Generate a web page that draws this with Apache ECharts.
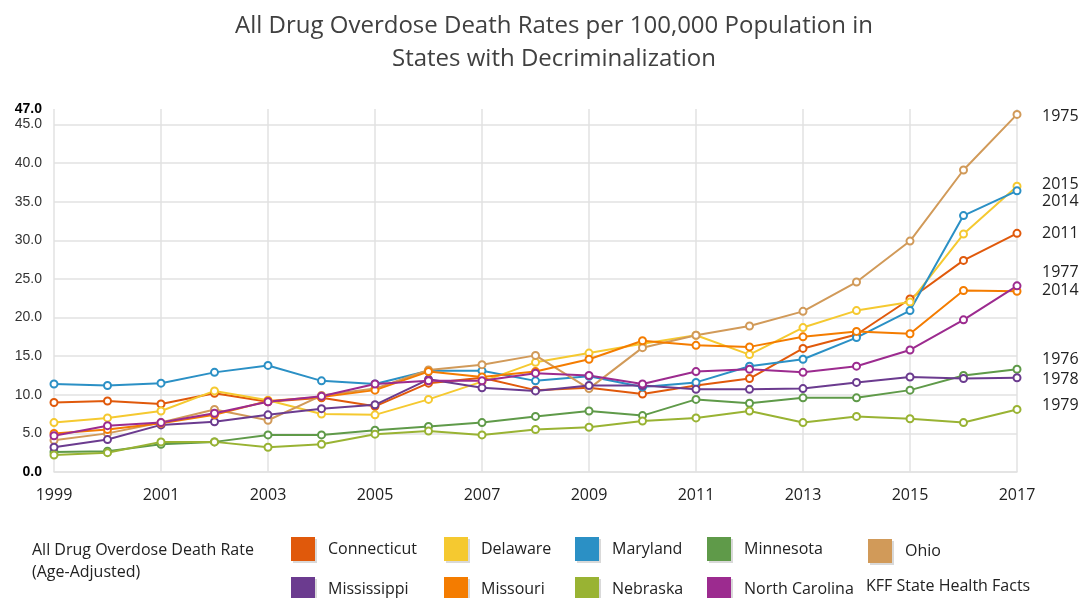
<!DOCTYPE html>
<html>
<head>
<meta charset="utf-8">
<script src="https://cdn.jsdelivr.net/npm/echarts@6/dist/echarts.min.js"></script>
<style>
  html, body { margin: 0; padding: 0; background: #fff; }
  #chart { width: 1079px; height: 598px; }
</style>
</head>
<body>
<div id="chart"></div>
<script>
const years = ['1999', '2000', '2001', '2002', '2003', '2004', '2005', '2006', '2007', '2008',
  '2009', '2010', '2011', '2012', '2013', '2014', '2015', '2016', '2017']

const connecticut = [9.0, 9.2, 8.8, 10.2, 9.1, 9.6, 8.5, 11.5, 12.2, 10.6, 10.9, 10.1, 11.2, 12.1, 16.0, 17.8, 22.4, 27.4, 30.9]
const delaware = [6.4, 7.0, 7.9, 10.5, 9.3, 7.5, 7.4, 9.4, 11.7, 14.2, 15.4, 16.6, 17.7, 15.2, 18.7, 20.9, 22.0, 30.8, 37.0]
const maryland = [11.4, 11.2, 11.5, 12.9, 13.8, 11.8, 11.4, 13.1, 13.1, 11.8, 12.4, 11.0, 11.6, 13.7, 14.6, 17.4, 20.9, 33.2, 36.4]
const minnesota = [2.6, 2.7, 3.6, 3.9, 4.8, 4.8, 5.4, 5.9, 6.4, 7.2, 7.9, 7.3, 9.4, 8.9, 9.6, 9.6, 10.6, 12.5, 13.3]
const ohio = [4.1, 5.0, 6.4, 8.1, 6.7, 9.9, 10.8, 13.2, 13.9, 15.1, 10.8, 16.1, 17.7, 18.9, 20.8, 24.6, 29.9, 39.1, 46.3]
const mississippi = [3.2, 4.2, 6.1, 6.5, 7.4, 8.2, 8.7, 12.0, 10.9, 10.5, 11.2, 11.2, 10.7, 10.7, 10.8, 11.6, 12.3, 12.1, 12.2]
const missouri = [5.0, 5.5, 6.3, 7.4, 9.2, 9.7, 10.6, 13.0, 12.3, 13.0, 14.6, 17.0, 16.4, 16.2, 17.5, 18.2, 17.9, 23.5, 23.4]
const nebraska = [2.2, 2.5, 3.9, 3.9, 3.2, 3.6, 4.9, 5.3, 4.8, 5.5, 5.8, 6.6, 7.0, 7.9, 6.4, 7.2, 6.9, 6.4, 8.1]
const northCarolina = [4.7, 6.0, 6.4, 7.6, 9.1, 9.8, 11.4, 11.8, 11.8, 12.8, 12.5, 11.4, 13.0, 13.3, 12.9, 13.7, 15.8, 19.7, 24.1]

// year of decriminalization shown at the line ends
const decrimYears = {
  Ohio: '1975', Delaware: '2015', Maryland: '2014', Connecticut: '2011', 'North Carolina': '1977',
  Missouri: '2014', Minnesota: '1976', Mississippi: '1978', Nebraska: '1979'
}

const font = '"Open Sans", "Noto Sans", sans-serif'

const states = [
  { name: 'Connecticut', data: connecticut, color: '#e0590b', dy: 0 },
  { name: 'Delaware', data: delaware, color: '#f5c930', dy: -2 },
  { name: 'Maryland', data: maryland, color: '#2b90c5', dy: 11 },
  { name: 'Minnesota', data: minnesota, color: '#5f9a49', dy: -10 },
  { name: 'Ohio', data: ohio, color: '#d19a59', dy: 2 },
  { name: 'Mississippi', data: mississippi, color: '#6b3b8f', dy: 2 },
  { name: 'Missouri', data: missouri, color: '#f47c00', dy: -1 },
  { name: 'Nebraska', data: nebraska, color: '#99b333', dy: -4 },
  { name: 'North Carolina', data: northCarolina, color: '#9c2b8f', dy: -13 }
]

const legendCols = [
  { left: 291, names: ['Connecticut', 'Mississippi'] },
  { left: 444, names: ['Delaware', 'Missouri'] },
  { left: 575, names: ['Maryland', 'Nebraska'] },
  { left: 707, names: ['Minnesota', 'North Carolina'] },
  { left: 868, top: 539, names: ['Ohio'] }
]

const chart = echarts.init(document.getElementById('chart'))

const option = {
  animation: false,
  color: states.map(s => s.color),
  title: {
    text: 'All Drug Overdose Death Rates per 100,000 Population in\nStates with Decriminalization',
    left: 549,
    textAlign: 'center',
    top: 5,
    textStyle: {
      fontFamily: font,
      fontSize: 24,
      fontWeight: 'normal',
      color: '#404040',
      lineHeight: 33
    }
  },
  legend: legendCols.map(col => ({
    orient: 'vertical',
    left: col.left,
    top: col.top || 537,
    height: 90,
    padding: 0,
    itemWidth: 24,
    itemHeight: 24,
    itemGap: 16,
    icon: 'rect',
    selectedMode: false,
    data: col.names,
    itemStyle: {
      borderWidth: 0,
      shadowColor: 'rgba(0,0,0,0.15)',
      shadowOffsetX: 2,
      shadowOffsetY: 2
    },
    textStyle: {
      fontFamily: font,
      fontSize: 16,
      color: '#222',
      padding: [0, 0, 0, 8]
    }
  })),
  graphic: [
    {
      type: 'text',
      left: 32,
      top: 539,
      style: {
        text: 'All Drug Overdose Death Rate\n(Age-Adjusted)',
        font: '16px ' + font,
        fill: '#222',
        lineHeight: 22
      }
    },
    {
      type: 'text',
      left: 866,
      top: 578,
      style: {
        text: 'KFF State Health Facts',
        font: '16px ' + font,
        fill: '#222'
      }
    }
  ],
  grid: {
    left: 54,
    right: 62,
    top: 109,
    bottom: 126
  },
  xAxis: {
    type: 'category',
    data: years,
    boundaryGap: false,
    axisTick: { show: false },
    axisLine: { lineStyle: { color: '#e2e2e2', width: 1.5 } },
    axisLabel: {
      interval: 1,
      margin: 15,
      fontFamily: font,
      fontSize: 16,
      color: '#222'
    },
    splitLine: {
      show: true,
      interval: 1,
      lineStyle: { color: '#e2e2e2', width: 1.5 }
    }
  },
  yAxis: {
    type: 'value',
    min: 0,
    max: 47,
    interval: 5,
    axisLine: { show: false },
    axisTick: { show: false },
    splitLine: {
      showMaxLine: false,
      lineStyle: { color: '#e2e2e2', width: 1.5 }
    },
    axisLabel: {
      margin: 12,
      fontFamily: 'Liberation Sans, Arial, sans-serif',
      fontSize: 14,
      color: '#333',
      showMaxLabel: true,
      formatter: (value) => {
        const txt = value.toFixed(1)
        return (value === 0 || value === 47) ? '{b|' + txt + '}' : txt
      },
      rich: {
        b: {
          fontFamily: 'Liberation Sans, Arial, sans-serif',
          fontSize: 14,
          fontWeight: 'bold',
          color: '#000'
        }
      }
    }
  },
  series: states.map(s => ({
    name: s.name,
    type: 'line',
    data: s.data,
    symbol: 'emptyCircle',
    symbolSize: 7,
    lineStyle: { width: 2, color: s.color },
    itemStyle: { color: s.color, borderWidth: 2 },
    endLabel: {
      show: true,
      formatter: decrimYears[s.name],
      distance: 0,
      offset: [25, s.dy],
      fontFamily: font,
      fontSize: 16,
      color: '#222'
    }
  }))
}

chart.setOption(option)
</script>
</body>
</html>
